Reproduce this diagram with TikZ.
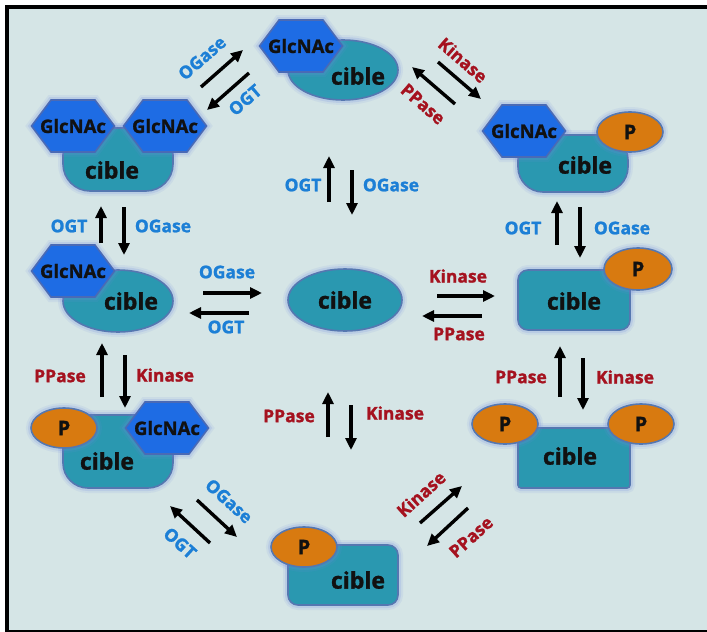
\documentclass[tikz,border=0pt]{standalone}
\usepackage{fontspec}
\setmainfont{Open Sans}[BoldFeatures={FakeBold=1.3}]
\usetikzlibrary{arrows.meta}
\definecolor{bgc}{HTML}{D5E5E6}
\definecolor{tealc}{HTML}{2A98B0}
\definecolor{cibb}{HTML}{5577B0}
\definecolor{hexc}{HTML}{1E6CE4}
\definecolor{hexb}{HTML}{4A6AB5}
\definecolor{orc}{HTML}{D87A10}
\definecolor{txtc}{HTML}{111111}
\definecolor{labb}{HTML}{1C7FD6}
\definecolor{labr}{HTML}{A5121F}
\definecolor{glowc}{HTML}{6F88E0}
\tikzset{
 glow/.style={preaction={draw=glowc,line width=10pt,draw opacity=0.10},
              preaction={draw=glowc,line width=6pt,draw opacity=0.18}},
 cib/.style={fill=tealc, draw=cibb, line width=1.6pt, glow},
 hexs/.style={fill=hexc, draw=hexb, line width=1.6pt, glow},
 pho/.style={fill=orc, draw=cibb, line width=1.6pt, glow},
 ctext/.style={font=\fontsize{23}{24}\selectfont\bfseries, text=txtc, inner sep=0pt},
 gtext/.style={font=\fontsize{18.5}{20}\selectfont\bfseries, text=txtc, inner sep=0pt},
 ptext/.style={font=\fontsize{20}{20}\selectfont\bfseries, text=txtc, inner sep=0pt},
 bl/.style={font=\fontsize{17.5}{18}\selectfont\bfseries, text=labb, inner sep=0pt},
 rl/.style={font=\fontsize{17.5}{18}\selectfont\bfseries, text=labr, inner sep=0pt},
 rxn/.style={draw=black, line width=3.4pt, -{Triangle[length=12pt,width=11pt]}},
}
\newcommand\hexa[3]{\draw[hexs, shift={(#2,#3)}] (-41.5,0) -- (-22,-26) -- (22,-26) -- (41.5,0) -- (22,26) -- (-22,26) -- cycle;
  \node[gtext] (#1) at (#2,#3) {GlcNAc};}
\newcommand\phos[3]{\draw[pho] (#2,#3) ellipse [x radius=33, y radius=20];
  \node[ptext] (#1) at (#2,#3) {P};}
\newcommand\rx[3]{\coordinate (#1a) at (#2); \coordinate (#1b) at (#3); \draw[rxn] (#1a) -- (#1b);}
\begin{document}
\begin{tikzpicture}[x=1pt,y=-1pt]
\useasboundingbox (0,0) rectangle (707,632);
\fill[white] (0,0) rectangle (707,632);
\fill[black] (5,5) rectangle (707,632);
\fill[bgc] (9,9) rectangle (707,630);

% M1 top
\draw[cib] (343,70) ellipse [x radius=55, y radius=30];
\hexa{g1}{301}{46}
\node[ctext] (c1) at (358,76) {cible};

% M2 top-left
\draw[cib, rounded corners=27pt] (63,128) rectangle (173,191);
\hexa{g2a}{73}{126}
\hexa{g2b}{165}{126}
\node[ctext] (c2) at (112,170) {cible};

% M3 top-right
\draw[cib, rounded corners=25pt] (518,135) rectangle (628,192);
\hexa{g3}{524}{131}
\phos{p3}{630}{132}
\node[ctext] (c3) at (585,165) {cible};

% M4 mid-left
\draw[cib] (118,301) ellipse [x radius=55, y radius=31];
\hexa{g4}{73}{271}
\node[ctext] (c4) at (131,301) {cible};

% M5 center
\draw[cib] (345,300) ellipse [x radius=57, y radius=31];
\node[ctext] (c5) at (345,300) {cible};

% M6 mid-right
\draw[cib, rounded corners=10pt] (518,270) rectangle (630,330);
\draw[pho] (638,269) ellipse [x radius=34, y radius=21];
\node[ptext] (p6) at (638,269) {P};
\node[ctext] (c6) at (574,301) {cible};

% M7 bottom-left
\draw[cib, rounded corners=25pt] (63,415) rectangle (173,488);
\phos{p7}{64}{428}
\hexa{g7}{167}{428}
\node[ctext] (c7) at (107,461) {cible};

% M8 bottom-right
\draw[cib, rounded corners=3pt] (518,428) rectangle (630,488);
\phos{p8a}{505}{424}
\phos{p8b}{641}{424}
\node[ctext] (c8) at (570,456) {cible};

% M9 bottom center
\draw[cib, rounded corners=10pt] (288,545) rectangle (398,605);
\phos{p9}{304}{547}
\node[ctext] (c9) at (358,580) {cible};

% arrows
\rx{a1}{201,87}{243,50}
\rx{a2}{249,73}{207,110}
\node[bl, rotate=41] (l1) at (202,58) {OGase};
\node[bl, rotate=41] (l2) at (245,100) {OGT};

\rx{a3}{438,62}{481,99}
\rx{a4}{455,104}{412,67}
\node[rl, rotate=-41] (l3) at (463,60) {Kinase};
\node[rl, rotate=-41] (l4) at (423,104) {PPase};

\rx{a5}{101,243}{101,206}
\rx{a6}{124,207}{124,255}
\node[bl] (l5) at (69,226) {OGT};
\node[bl] (l6) at (163,226) {OGase};

\rx{a7}{102,397}{102,343}
\rx{a8}{125,355}{125,408}
\node[rl] (l7) at (60,376) {PPase};
\node[rl] (l8) at (165,375) {Kinase};

\rx{a9}{203,293}{262,293}
\rx{a10}{249,313}{189,313}
\node[bl] (l9) at (227,272) {OGase};
\node[bl] (l10) at (226,327) {OGT};

\rx{a11}{437,296}{495,296}
\rx{a12}{482,316}{422,316}
\node[rl] (l11) at (458,276) {Kinase};
\node[rl] (l12) at (459,334) {PPase};

\rx{a13}{557,245}{557,201}
\rx{a14}{580,207}{580,258}
\node[bl] (l13) at (523,228) {OGT};
\node[bl] (l14) at (622,228) {OGase};

\rx{a15}{560,397}{560,346}
\rx{a16}{583,358}{583,410}
\node[rl] (l15) at (521,377) {PPase};
\node[rl] (l16) at (625,377) {Kinase};

\rx{a17}{329,202}{329,156}
\rx{a18}{352,170}{352,215}
\node[bl] (l17) at (303,185) {OGT};
\node[bl] (l18) at (391,185) {OGase};

\rx{a19}{328,437}{328,392}
\rx{a20}{351,405}{351,450}
\node[rl] (l19) at (289,416) {PPase};
\node[rl] (l20) at (395,413) {Kinase};

\rx{a21}{197,500}{237,537}
\rx{a22}{210,543}{170,506}
\node[bl, rotate=-42] (l21) at (229,501) {OGase};
\node[bl, rotate=-42] (l22) at (180,543) {OGT};

\rx{a23}{420,523}{462,486}
\rx{a24}{468,508}{427,546}
\node[rl, rotate=42] (l23) at (421,494) {Kinase};
\node[rl, rotate=42] (l24) at (471,537) {PPase};
\end{tikzpicture}
\end{document}
